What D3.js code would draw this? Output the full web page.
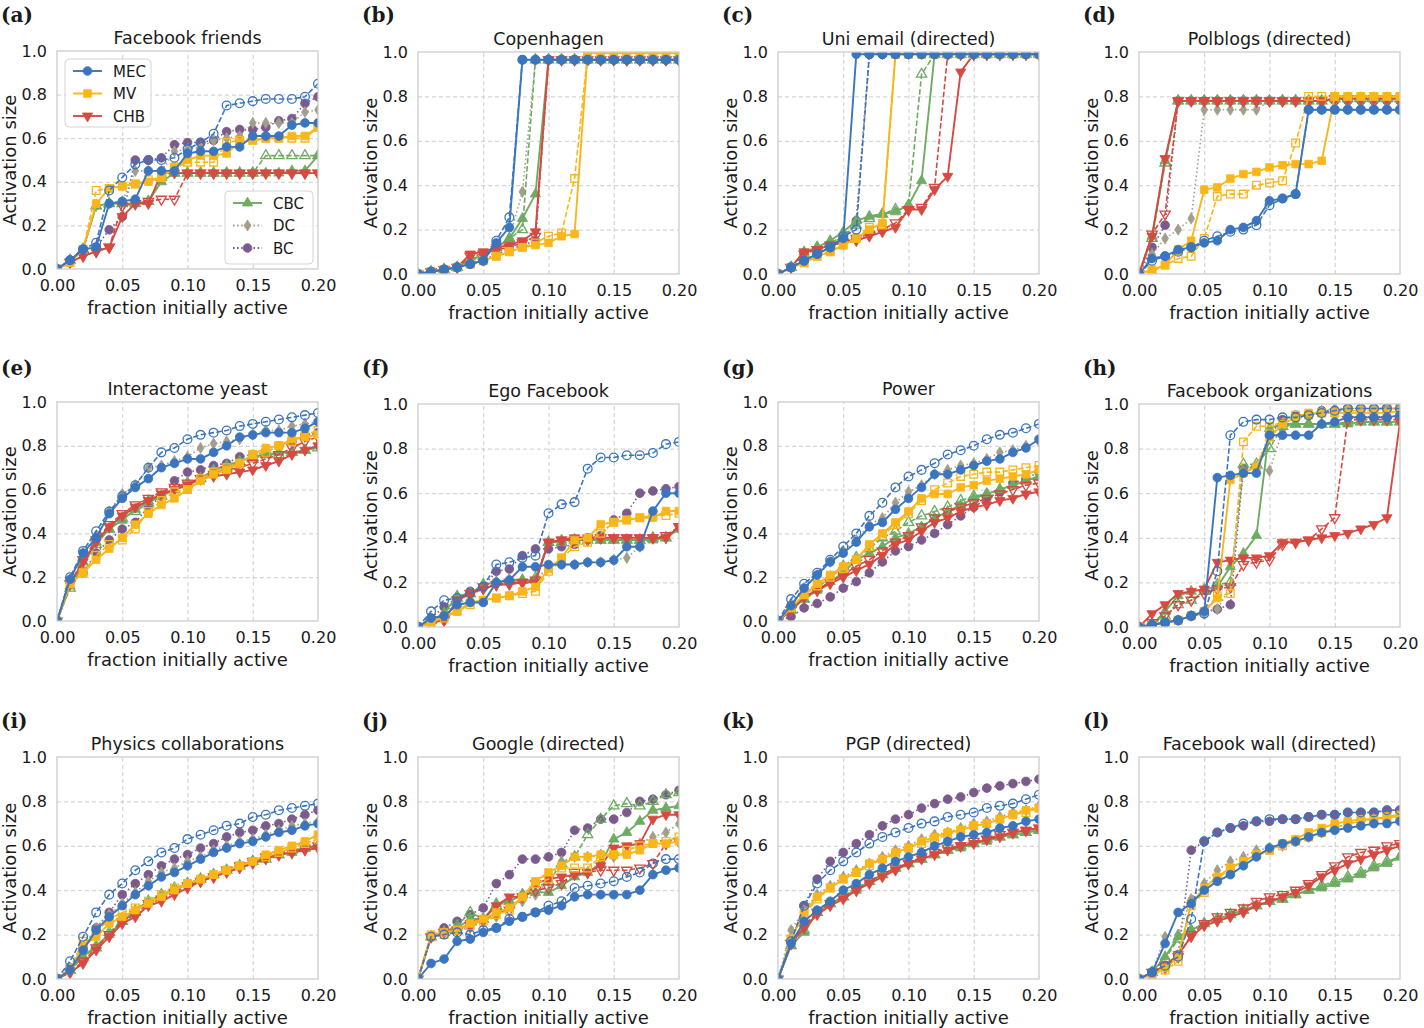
<!DOCTYPE html>
<html>
<head>
<meta charset="utf-8">
<script src="https://cdn.jsdelivr.net/npm/d3@7"></script>
<style>
  body { margin: 0; background: #fff; }
  text { font-family: "DejaVu Sans", sans-serif; fill: #1a1a1a; }
</style>
</head>
<body>
<svg id="chart" width="1424" height="1028"></svg>
<script>
// x positions of every run (fraction initially active)
const xFractions = [0, 0.01, 0.02, 0.03, 0.04, 0.05, 0.06, 0.07, 0.08, 0.09, 0.10, 0.11, 0.12, 0.13, 0.14, 0.15, 0.16, 0.17, 0.18, 0.19, 0.20];
const xTicks = [0, 0.05, 0.10, 0.15, 0.20];
const yTicks = [0, 0.2, 0.4, 0.6, 0.8, 1.0];
const panelLetters = ["(a)", "(b)", "(c)", "(d)", "(e)", "(f)", "(g)", "(h)", "(i)", "(j)", "(k)", "(l)"];
const panelTitles = ["Facebook friends", "Copenhagen", "Uni email (directed)", "Polblogs (directed)",
  "Interactome yeast", "Ego Facebook", "Power", "Facebook organizations",
  "Physics collaborations", "Google (directed)", "PGP (directed)", "Facebook wall (directed)"];
// series order in every panel below: MEC, MEC (dashed), MV, MV (dashed), CHB, CHB (dashed), CBC, CBC (dashed), DC, BC
const seriesKeys = ["MEC", "MEC*", "MV", "MV*", "CHB", "CHB*", "CBC", "CBC*", "DC", "BC"];

const facebookFriends = [
  [0,0.04,0.09,0.10,0.30,0.31,0.32,0.45,0.45,0.45,0.53,0.54,0.54,0.56,0.56,0.61,0.61,0.61,0.66,0.67,0.67],
  [0,0.04,0.09,0.12,0.36,0.42,0.48,0.50,0.50,0.51,0.55,0.58,0.62,0.75,0.76,0.77,0.78,0.78,0.78,0.79,0.85],
  [0,0.03,0.09,0.30,0.37,0.38,0.39,0.40,0.42,0.47,0.50,0.52,0.52,0.53,0.58,0.59,0.60,0.60,0.61,0.61,0.65],
  [0,0.03,0.09,0.36,0.37,0.38,0.39,0.41,0.42,0.46,0.49,0.49,0.49,0.58,0.59,0.59,0.60,0.60,0.60,0.60,0.65],
  [0,0.03,0.06,0.08,0.10,0.24,0.30,0.30,0.44,0.44,0.44,0.44,0.44,0.44,0.44,0.44,0.44,0.44,0.44,0.44,0.44],
  [0,0.03,0.06,0.08,0.10,0.29,0.30,0.31,0.32,0.32,0.44,0.44,0.44,0.44,0.44,0.44,0.44,0.44,0.44,0.44,0.44],
  [0,0.04,0.09,0.29,0.30,0.30,0.30,0.31,0.40,0.44,0.44,0.44,0.44,0.44,0.44,0.44,0.44,0.44,0.45,0.45,0.52],
  [0,0.04,0.09,0.29,0.30,0.30,0.30,0.31,0.42,0.44,0.44,0.44,0.44,0.44,0.44,0.44,0.52,0.52,0.52,0.52,0.52],
  [0,0.04,0.09,0.29,0.30,0.31,0.45,0.45,0.45,0.54,0.55,0.56,0.59,0.60,0.61,0.67,0.67,0.67,0.67,0.72,0.73],
  [0,0.04,0.09,0.10,0.18,0.24,0.50,0.50,0.51,0.57,0.58,0.58,0.59,0.63,0.64,0.64,0.65,0.68,0.69,0.76,0.79]
];
const copenhagen = [
  [0,0.01,0.02,0.03,0.045,0.06,0.14,0.21,0.965,0.965,0.965,0.965,0.965,0.965,0.965,0.965,0.965,0.965,0.965,0.965,0.965],
  [0,0.01,0.02,0.03,0.045,0.06,0.15,0.255,0.965,0.965,0.965,0.965,0.965,0.965,0.965,0.965,0.965,0.965,0.965,0.965,0.965],
  [0,0.01,0.02,0.03,0.045,0.06,0.08,0.10,0.12,0.13,0.14,0.17,0.18,0.995,0.995,0.995,0.995,0.995,0.995,0.995,0.995],
  [0,0.01,0.02,0.03,0.045,0.06,0.08,0.10,0.12,0.14,0.17,0.185,0.43,0.995,0.995,0.995,0.995,0.995,0.995,0.995,0.995],
  [0,0.01,0.02,0.03,0.09,0.10,0.12,0.13,0.15,0.19,0.965,0.965,0.965,0.965,0.965,0.965,0.965,0.965,0.965,0.965,0.965],
  [0,0.01,0.02,0.03,0.08,0.09,0.11,0.12,0.14,0.17,0.965,0.965,0.965,0.965,0.965,0.965,0.965,0.965,0.965,0.965,0.965],
  [0,0.01,0.02,0.03,0.07,0.08,0.12,0.16,0.25,0.36,0.965,0.965,0.965,0.965,0.965,0.965,0.965,0.965,0.965,0.965,0.965],
  [0,0.01,0.02,0.03,0.06,0.08,0.12,0.16,0.20,0.965,0.965,0.965,0.965,0.965,0.965,0.965,0.965,0.965,0.965,0.965,0.965],
  [0,0.01,0.02,0.03,0.05,0.07,0.12,0.16,0.37,0.965,0.965,0.965,0.965,0.965,0.965,0.965,0.965,0.965,0.965,0.965,0.965],
  [0,0.01,0.02,0.03,0.045,0.06,0.09,0.11,0.13,0.15,0.965,0.965,0.965,0.965,0.965,0.965,0.965,0.965,0.965,0.965,0.965]
];
const uniEmail = [
  [0,0.03,0.06,0.09,0.12,0.16,0.99,0.99,0.99,0.99,0.99,0.99,0.99,0.99,0.99,0.99,0.99,0.99,0.99,0.99,0.99],
  [0,0.03,0.06,0.09,0.12,0.17,0.20,0.99,0.99,0.99,0.99,0.99,0.99,0.99,0.99,0.99,0.99,0.99,0.99,0.99,0.99],
  [0,0.03,0.05,0.08,0.10,0.13,0.16,0.20,0.23,0.99,0.99,0.99,0.99,0.99,0.99,0.99,0.99,0.99,0.99,0.99,0.99],
  [0,0.03,0.05,0.08,0.10,0.13,0.16,0.21,0.22,0.99,0.99,0.99,0.99,0.99,0.99,0.99,0.99,0.99,0.99,0.99,0.99],
  [0,0.03,0.10,0.11,0.13,0.14,0.15,0.17,0.19,0.21,0.29,0.29,0.38,0.44,0.91,0.99,0.99,0.99,0.99,0.99,0.99],
  [0,0.03,0.09,0.11,0.13,0.14,0.16,0.18,0.20,0.23,0.29,0.30,0.39,0.99,0.99,0.99,0.99,0.99,0.99,0.99,0.99],
  [0,0.03,0.10,0.12,0.15,0.19,0.24,0.26,0.27,0.28,0.31,0.42,0.99,0.99,0.99,0.99,0.99,0.99,0.99,0.99,0.99],
  [0,0.03,0.09,0.12,0.14,0.17,0.22,0.25,0.27,0.29,0.31,0.90,0.99,0.99,0.99,0.99,0.99,0.99,0.99,0.99,0.99],
  [0,0.03,0.06,0.09,0.12,0.16,0.23,0.99,0.99,0.99,0.99,0.99,0.99,0.99,0.99,0.99,0.99,0.99,0.99,0.99,0.99],
  [0,0.03,0.06,0.09,0.12,0.16,0.24,0.99,0.99,0.99,0.99,0.99,0.99,0.99,0.99,0.99,0.99,0.99,0.99,0.99,0.99]
];
const polblogs = [
  [0,0.07,0.08,0.11,0.12,0.14,0.15,0.20,0.21,0.24,0.33,0.34,0.36,0.74,0.74,0.74,0.74,0.74,0.74,0.74,0.74],
  [0,0.06,0.08,0.10,0.12,0.15,0.17,0.19,0.20,0.22,0.31,0.34,0.36,0.74,0.74,0.74,0.74,0.74,0.74,0.74,0.74],
  [0,0.02,0.04,0.11,0.15,0.38,0.39,0.43,0.45,0.46,0.48,0.49,0.495,0.495,0.51,0.80,0.80,0.80,0.80,0.80,0.80],
  [0,0.01,0.04,0.07,0.08,0.16,0.35,0.36,0.36,0.40,0.41,0.42,0.59,0.80,0.80,0.80,0.80,0.80,0.80,0.80,0.80],
  [0,0.17,0.52,0.78,0.78,0.78,0.78,0.78,0.78,0.78,0.78,0.78,0.78,0.78,0.78,0.79,0.79,0.79,0.79,0.79,0.79],
  [0,0.18,0.27,0.78,0.78,0.78,0.78,0.78,0.78,0.78,0.78,0.78,0.78,0.78,0.78,0.79,0.79,0.79,0.79,0.79,0.79],
  [0,0.17,0.51,0.78,0.78,0.78,0.78,0.78,0.78,0.78,0.78,0.78,0.78,0.78,0.78,0.79,0.79,0.79,0.79,0.79,0.79],
  [0,0.16,0.50,0.78,0.78,0.78,0.78,0.78,0.78,0.78,0.78,0.78,0.78,0.78,0.78,0.79,0.79,0.79,0.79,0.79,0.79],
  [0,0.09,0.16,0.20,0.25,0.74,0.74,0.74,0.74,0.74,0.78,0.78,0.78,0.78,0.78,0.78,0.78,0.78,0.78,0.78,0.78],
  [0,0.12,0.22,0.78,0.78,0.78,0.78,0.78,0.78,0.78,0.78,0.78,0.78,0.78,0.78,0.78,0.78,0.78,0.78,0.78,0.78]
];
const interactomeYeast = [
  [0,0.19,0.31,0.38,0.49,0.56,0.61,0.65,0.70,0.72,0.74,0.74,0.77,0.80,0.84,0.85,0.86,0.86,0.86,0.88,0.91],
  [0,0.20,0.32,0.41,0.50,0.57,0.62,0.70,0.77,0.79,0.83,0.85,0.86,0.87,0.89,0.90,0.91,0.92,0.93,0.94,0.95],
  [0,0.17,0.22,0.28,0.33,0.38,0.44,0.49,0.53,0.56,0.60,0.64,0.67,0.69,0.72,0.76,0.79,0.80,0.83,0.84,0.85],
  [0,0.17,0.22,0.30,0.35,0.37,0.42,0.50,0.55,0.59,0.60,0.65,0.68,0.70,0.72,0.76,0.77,0.80,0.82,0.85,0.87],
  [0,0.17,0.27,0.36,0.43,0.48,0.52,0.55,0.58,0.60,0.62,0.65,0.66,0.67,0.68,0.69,0.71,0.73,0.76,0.78,0.80],
  [0,0.17,0.28,0.37,0.44,0.49,0.53,0.56,0.59,0.61,0.63,0.65,0.67,0.69,0.70,0.72,0.74,0.76,0.79,0.82,0.84],
  [0,0.16,0.27,0.36,0.42,0.46,0.51,0.55,0.57,0.60,0.62,0.65,0.69,0.71,0.73,0.75,0.76,0.77,0.77,0.78,0.80],
  [0,0.15,0.26,0.35,0.42,0.47,0.50,0.54,0.57,0.60,0.63,0.65,0.68,0.70,0.72,0.74,0.76,0.76,0.77,0.78,0.79],
  [0,0.19,0.31,0.39,0.50,0.58,0.62,0.70,0.71,0.73,0.75,0.79,0.81,0.82,0.83,0.85,0.87,0.87,0.89,0.90,0.91],
  [0,0.18,0.22,0.31,0.37,0.42,0.45,0.52,0.57,0.64,0.68,0.69,0.71,0.72,0.75,0.76,0.77,0.80,0.82,0.85,0.86]
];
const egoFacebook = [
  [0,0.04,0.05,0.10,0.11,0.11,0.20,0.21,0.27,0.27,0.28,0.28,0.28,0.29,0.29,0.30,0.36,0.36,0.52,0.60,0.60],
  [0,0.07,0.12,0.13,0.15,0.18,0.28,0.29,0.31,0.32,0.51,0.55,0.56,0.71,0.76,0.76,0.77,0.77,0.78,0.82,0.83],
  [0,0.02,0.05,0.07,0.11,0.12,0.13,0.14,0.16,0.18,0.26,0.31,0.39,0.40,0.46,0.47,0.48,0.49,0.49,0.52,0.52],
  [0,0.02,0.04,0.07,0.10,0.12,0.13,0.14,0.15,0.16,0.25,0.31,0.36,0.38,0.42,0.47,0.48,0.49,0.50,0.50,0.51],
  [0,0.02,0.03,0.12,0.15,0.17,0.19,0.19,0.20,0.20,0.38,0.39,0.40,0.40,0.40,0.40,0.40,0.40,0.40,0.40,0.45],
  [0,0.02,0.03,0.12,0.15,0.18,0.19,0.20,0.20,0.21,0.38,0.39,0.39,0.39,0.40,0.40,0.40,0.40,0.40,0.41,0.45],
  [0,0.03,0.06,0.14,0.15,0.19,0.20,0.21,0.21,0.21,0.38,0.39,0.39,0.39,0.39,0.39,0.39,0.39,0.39,0.40,0.44],
  [0,0.03,0.06,0.13,0.15,0.19,0.20,0.21,0.21,0.22,0.38,0.38,0.39,0.39,0.39,0.39,0.39,0.39,0.40,0.40,0.44],
  [0,0.03,0.05,0.12,0.15,0.17,0.19,0.20,0.20,0.21,0.27,0.28,0.28,0.29,0.29,0.30,0.31,0.36,0.40,0.40,0.44],
  [0,0.04,0.09,0.13,0.16,0.18,0.25,0.26,0.32,0.35,0.35,0.36,0.37,0.40,0.41,0.48,0.51,0.60,0.61,0.62,0.63]
];
const power = [
  [0,0.07,0.15,0.21,0.27,0.31,0.36,0.43,0.45,0.51,0.56,0.61,0.67,0.67,0.69,0.71,0.73,0.74,0.77,0.79,0.83],
  [0,0.10,0.17,0.22,0.28,0.34,0.40,0.48,0.54,0.61,0.66,0.69,0.72,0.76,0.78,0.80,0.83,0.85,0.86,0.88,0.90],
  [0,0.06,0.12,0.17,0.21,0.25,0.28,0.35,0.40,0.45,0.50,0.56,0.58,0.58,0.61,0.62,0.64,0.65,0.66,0.67,0.69],
  [0,0.06,0.12,0.16,0.20,0.24,0.28,0.34,0.39,0.44,0.49,0.55,0.60,0.63,0.66,0.67,0.68,0.68,0.69,0.70,0.71],
  [0,0.05,0.11,0.14,0.17,0.20,0.23,0.26,0.30,0.35,0.37,0.41,0.45,0.47,0.50,0.52,0.53,0.55,0.56,0.58,0.59],
  [0,0.05,0.11,0.14,0.18,0.21,0.25,0.28,0.32,0.36,0.39,0.43,0.47,0.50,0.52,0.54,0.56,0.58,0.60,0.62,0.63],
  [0,0.05,0.10,0.14,0.18,0.22,0.28,0.31,0.34,0.38,0.40,0.43,0.47,0.50,0.53,0.56,0.58,0.60,0.62,0.64,0.66],
  [0,0.05,0.10,0.15,0.20,0.25,0.29,0.33,0.38,0.41,0.45,0.48,0.50,0.52,0.55,0.57,0.58,0.60,0.62,0.64,0.66],
  [0,0.08,0.15,0.21,0.27,0.32,0.37,0.44,0.47,0.54,0.59,0.62,0.67,0.69,0.71,0.72,0.74,0.77,0.78,0.80,0.82],
  [0,0.02,0.06,0.08,0.11,0.15,0.18,0.22,0.27,0.32,0.34,0.37,0.40,0.44,0.48,0.52,0.56,0.59,0.63,0.65,0.68]
];
const facebookOrganizations = [
  [0,0.01,0.02,0.03,0.05,0.07,0.67,0.68,0.69,0.69,0.86,0.86,0.86,0.86,0.91,0.92,0.94,0.94,0.94,0.94,0.95],
  [0,0.01,0.02,0.03,0.05,0.06,0.25,0.86,0.92,0.93,0.93,0.94,0.94,0.95,0.96,0.97,0.98,0.98,0.98,0.98,0.98],
  [0,0.01,0.02,0.03,0.05,0.07,0.13,0.66,0.69,0.72,0.85,0.91,0.94,0.96,0.96,0.96,0.96,0.96,0.96,0.96,0.97],
  [0,0.01,0.02,0.03,0.05,0.07,0.14,0.15,0.83,0.90,0.90,0.92,0.95,0.95,0.96,0.96,0.97,0.97,0.97,0.98,0.98],
  [0,0.06,0.10,0.15,0.16,0.17,0.29,0.30,0.31,0.31,0.32,0.38,0.38,0.39,0.40,0.41,0.42,0.44,0.46,0.49,0.92],
  [0,0.02,0.05,0.10,0.12,0.15,0.17,0.18,0.28,0.29,0.30,0.37,0.38,0.39,0.44,0.49,0.93,0.93,0.93,0.93,0.93],
  [0,0.01,0.07,0.14,0.16,0.17,0.18,0.27,0.33,0.41,0.89,0.91,0.91,0.91,0.91,0.91,0.91,0.92,0.92,0.92,0.92],
  [0,0.01,0.05,0.10,0.12,0.16,0.19,0.20,0.73,0.73,0.80,0.90,0.91,0.91,0.91,0.91,0.92,0.92,0.92,0.92,0.92],
  [0,0.01,0.02,0.03,0.05,0.06,0.08,0.18,0.70,0.72,0.70,0.88,0.93,0.95,0.97,0.98,0.98,0.98,0.98,0.98,0.98],
  [0,0.01,0.02,0.03,0.05,0.07,0.08,0.10,0.71,0.72,0.86,0.93,0.95,0.95,0.97,0.97,0.98,0.98,0.98,0.98,0.98]
];
const physicsCollaborations = [
  [0,0.04,0.13,0.22,0.28,0.33,0.38,0.42,0.46,0.48,0.51,0.54,0.57,0.59,0.61,0.62,0.64,0.66,0.67,0.69,0.70],
  [0,0.08,0.19,0.30,0.38,0.43,0.49,0.53,0.57,0.59,0.63,0.65,0.67,0.69,0.70,0.73,0.74,0.76,0.77,0.78,0.79],
  [0,0.04,0.15,0.19,0.25,0.28,0.31,0.34,0.37,0.40,0.43,0.45,0.47,0.49,0.51,0.53,0.56,0.58,0.60,0.62,0.65],
  [0,0.05,0.17,0.21,0.27,0.30,0.32,0.35,0.38,0.41,0.43,0.45,0.47,0.49,0.51,0.53,0.55,0.57,0.59,0.61,0.63],
  [0,0.03,0.07,0.13,0.19,0.25,0.28,0.33,0.35,0.38,0.41,0.44,0.46,0.48,0.50,0.52,0.54,0.56,0.57,0.58,0.59],
  [0,0.03,0.08,0.14,0.20,0.26,0.29,0.34,0.36,0.39,0.42,0.44,0.46,0.49,0.51,0.53,0.55,0.56,0.57,0.59,0.60],
  [0,0.04,0.10,0.15,0.20,0.26,0.31,0.35,0.38,0.40,0.43,0.45,0.47,0.49,0.51,0.53,0.55,0.56,0.57,0.59,0.60],
  [0,0.04,0.10,0.14,0.21,0.26,0.30,0.35,0.38,0.41,0.43,0.45,0.47,0.49,0.51,0.53,0.54,0.56,0.58,0.59,0.60],
  [0,0.05,0.14,0.23,0.29,0.34,0.39,0.44,0.48,0.50,0.53,0.55,0.58,0.60,0.62,0.63,0.65,0.67,0.69,0.70,0.71],
  [0,0.05,0.14,0.23,0.30,0.38,0.43,0.47,0.51,0.54,0.56,0.59,0.61,0.64,0.66,0.67,0.69,0.70,0.72,0.74,0.76]
];
const google = [
  [0,0.07,0.09,0.17,0.18,0.21,0.23,0.26,0.28,0.30,0.31,0.33,0.37,0.38,0.38,0.38,0.38,0.40,0.47,0.49,0.50],
  [0,0.19,0.20,0.21,0.20,0.22,0.23,0.27,0.28,0.30,0.33,0.35,0.41,0.42,0.43,0.44,0.46,0.48,0.52,0.54,0.54],
  [0,0.20,0.21,0.22,0.25,0.27,0.30,0.32,0.37,0.44,0.48,0.51,0.55,0.55,0.56,0.56,0.56,0.58,0.61,0.61,0.62],
  [0,0.19,0.20,0.22,0.24,0.26,0.29,0.31,0.37,0.43,0.45,0.50,0.50,0.50,0.55,0.56,0.58,0.60,0.61,0.62,0.64],
  [0,0.19,0.21,0.22,0.25,0.27,0.33,0.37,0.37,0.43,0.45,0.46,0.47,0.48,0.51,0.59,0.60,0.61,0.72,0.74,0.74],
  [0,0.19,0.21,0.22,0.24,0.26,0.30,0.31,0.37,0.40,0.41,0.43,0.48,0.48,0.49,0.49,0.49,0.50,0.52,0.61,0.62],
  [0,0.19,0.21,0.23,0.27,0.27,0.34,0.35,0.38,0.39,0.39,0.42,0.46,0.48,0.52,0.63,0.66,0.71,0.76,0.77,0.78],
  [0,0.19,0.21,0.24,0.30,0.27,0.33,0.35,0.38,0.41,0.44,0.52,0.55,0.65,0.72,0.78,0.79,0.78,0.80,0.83,0.84],
  [0,0.19,0.21,0.22,0.23,0.26,0.28,0.33,0.35,0.38,0.44,0.53,0.55,0.55,0.56,0.55,0.57,0.61,0.64,0.66,0.70],
  [0,0.19,0.23,0.26,0.29,0.32,0.43,0.47,0.54,0.54,0.55,0.57,0.67,0.68,0.72,0.72,0.75,0.80,0.81,0.83,0.85]
];
const pgp = [
  [0,0.16,0.26,0.31,0.35,0.40,0.43,0.47,0.50,0.53,0.55,0.57,0.60,0.62,0.64,0.65,0.66,0.68,0.69,0.71,0.72],
  [0,0.17,0.33,0.43,0.49,0.53,0.57,0.61,0.64,0.66,0.68,0.70,0.71,0.73,0.74,0.75,0.77,0.78,0.79,0.81,0.83],
  [0,0.18,0.30,0.37,0.41,0.45,0.48,0.52,0.54,0.57,0.59,0.62,0.64,0.66,0.67,0.69,0.70,0.72,0.74,0.76,0.77],
  [0,0.18,0.29,0.36,0.41,0.45,0.48,0.51,0.54,0.56,0.59,0.61,0.63,0.65,0.67,0.69,0.70,0.72,0.74,0.75,0.77],
  [0,0.16,0.23,0.29,0.33,0.36,0.40,0.43,0.46,0.49,0.52,0.54,0.56,0.58,0.60,0.61,0.63,0.64,0.66,0.67,0.68],
  [0,0.16,0.24,0.30,0.34,0.37,0.40,0.44,0.47,0.50,0.52,0.55,0.57,0.59,0.60,0.62,0.63,0.65,0.66,0.67,0.68],
  [0,0.15,0.21,0.30,0.34,0.37,0.40,0.44,0.47,0.50,0.52,0.54,0.56,0.58,0.59,0.61,0.62,0.64,0.65,0.66,0.67],
  [0,0.15,0.22,0.30,0.34,0.37,0.41,0.44,0.47,0.50,0.52,0.54,0.56,0.58,0.60,0.61,0.63,0.64,0.65,0.66,0.67],
  [0,0.22,0.31,0.38,0.42,0.46,0.49,0.52,0.55,0.58,0.60,0.63,0.65,0.66,0.68,0.70,0.71,0.73,0.75,0.76,0.78],
  [0,0.17,0.33,0.45,0.53,0.57,0.61,0.65,0.69,0.72,0.74,0.77,0.79,0.81,0.82,0.84,0.86,0.87,0.88,0.89,0.90]
];
const facebookWall = [
  [0,0.03,0.16,0.30,0.34,0.40,0.44,0.47,0.51,0.55,0.59,0.61,0.62,0.64,0.66,0.67,0.68,0.69,0.70,0.70,0.71],
  [0,0.03,0.06,0.10,0.27,0.62,0.66,0.68,0.70,0.71,0.72,0.72,0.72,0.73,0.74,0.74,0.75,0.75,0.75,0.76,0.76],
  [0,0.02,0.05,0.10,0.34,0.41,0.46,0.50,0.53,0.56,0.58,0.61,0.63,0.66,0.68,0.70,0.71,0.72,0.72,0.73,0.74],
  [0,0.02,0.04,0.08,0.33,0.39,0.45,0.50,0.53,0.56,0.58,0.60,0.62,0.64,0.66,0.68,0.70,0.71,0.72,0.73,0.73],
  [0,0.03,0.06,0.11,0.19,0.24,0.26,0.28,0.30,0.33,0.35,0.37,0.39,0.42,0.46,0.49,0.52,0.54,0.56,0.58,0.60],
  [0,0.03,0.05,0.10,0.20,0.25,0.28,0.30,0.32,0.35,0.37,0.38,0.40,0.43,0.47,0.51,0.55,0.57,0.58,0.60,0.61],
  [0,0.03,0.10,0.19,0.22,0.25,0.27,0.29,0.31,0.33,0.35,0.36,0.38,0.40,0.41,0.43,0.45,0.47,0.50,0.52,0.55],
  [0,0.03,0.09,0.18,0.22,0.25,0.27,0.29,0.31,0.33,0.35,0.36,0.38,0.40,0.42,0.44,0.46,0.48,0.51,0.53,0.55],
  [0,0.03,0.19,0.20,0.36,0.43,0.49,0.53,0.55,0.58,0.59,0.60,0.62,0.64,0.66,0.68,0.70,0.71,0.72,0.73,0.74],
  [0,0.03,0.06,0.11,0.58,0.62,0.66,0.68,0.69,0.71,0.71,0.72,0.72,0.73,0.74,0.74,0.75,0.75,0.75,0.76,0.76]
];

const panelData = [facebookFriends, copenhagen, uniEmail, polblogs,
  interactomeYeast, egoFacebook, power, facebookOrganizations,
  physicsCollaborations, google, pgp, facebookWall];

// layout: plot box of each panel
const panelBoxes = [
  { x: 57, y: 51, w: 261, h: 218 }, { x: 418, y: 52, w: 261, h: 222 },
  { x: 778, y: 52, w: 261, h: 222 }, { x: 1139, y: 52, w: 261, h: 222 },
  { x: 57, y: 402, w: 261, h: 219 }, { x: 418, y: 404, w: 261, h: 223 },
  { x: 778, y: 402, w: 261, h: 219 }, { x: 1139, y: 404, w: 261, h: 223 },
  { x: 57, y: 757, w: 261, h: 222 }, { x: 418, y: 757, w: 261, h: 222 },
  { x: 778, y: 757, w: 261, h: 222 }, { x: 1139, y: 757, w: 261, h: 222 }
];
const letterY = [22, 22, 22, 22, 375, 375, 375, 375, 728, 728, 728, 728];

var blue = "#3b75bd", gold = "#f9b61a", red = "#d64a41", green = "#6fab63", gray = "#a39d8c", purple = "#7b5a8c";
var dashed = "5.5,2.4", dotted = "1.5,2.6";
var seriesStyles = [
  { color: blue, dash: null, marker: "circle", filled: true },
  { color: blue, dash: dashed, marker: "circle", filled: false },
  { color: gold, dash: null, marker: "square", filled: true },
  { color: gold, dash: dashed, marker: "square", filled: false },
  { color: red, dash: null, marker: "tdown", filled: true },
  { color: red, dash: dashed, marker: "tdown", filled: false },
  { color: green, dash: null, marker: "tup", filled: true },
  { color: green, dash: dashed, marker: "tup", filled: false },
  { color: gray, dash: dotted, marker: "diamond", filled: true },
  { color: purple, dash: dotted, marker: "circle", filled: true }
];
var drawOrder = [9, 8, 7, 6, 5, 4, 3, 2, 1, 0];

function markerPath(kind) {
  if (kind === "circle") return d3.symbol(d3.symbolCircle, 60)();
  if (kind === "square") return d3.symbol(d3.symbolSquare, 58)();
  if (kind === "tup" || kind === "tdown") return d3.symbol(d3.symbolTriangle, 46)();
  return "M0,-5.6L3.4,0L0,5.6L-3.4,0Z";
}

var svg = d3.select("#chart");
var defs = svg.append("defs");

function drawMarker(g, st, cx, cy) {
  g.append("path")
    .attr("d", markerPath(st.marker))
    .attr("transform", "translate(" + cx + "," + cy + ")" + (st.marker === "tdown" ? " rotate(180)" : ""))
    .attr("fill", st.filled ? st.color : "none")
    .attr("stroke", st.color)
    .attr("stroke-width", st.filled ? 0.8 : 1.3);
}

panelData.forEach(function(rows, p) {
  var box = panelBoxes[p];
  var x = d3.scaleLinear().domain([0, 0.2]).range([box.x, box.x + box.w]);
  var y = d3.scaleLinear().domain([0, 1]).range([box.y + box.h, box.y]);
  var g = svg.append("g");

  // grid
  g.append("g")
    .attr("transform", "translate(0," + (box.y + box.h) + ")")
    .call(d3.axisBottom(x).tickValues([0.05, 0.1, 0.15]).tickSize(-box.h).tickFormat(""))
    .call(function(s) { s.select(".domain").remove(); })
    .selectAll("line").attr("stroke", "#cbcbcb").attr("stroke-dasharray", "4,3");
  g.append("g")
    .attr("transform", "translate(" + box.x + ",0)")
    .call(d3.axisLeft(y).tickValues([0.2, 0.4, 0.6, 0.8]).tickSize(-box.w).tickFormat(""))
    .call(function(s) { s.select(".domain").remove(); })
    .selectAll("line").attr("stroke", "#cbcbcb").attr("stroke-dasharray", "4,3");

  defs.append("clipPath").attr("id", "clip" + p)
    .append("rect").attr("x", box.x).attr("y", box.y).attr("width", box.w).attr("height", box.h);
  var plot = g.append("g").attr("clip-path", "url(#clip" + p + ")");

  var line = d3.line()
    .x(function(d, i) { return x(xFractions[i]); })
    .y(function(d) { return y(d); });

  drawOrder.forEach(function(k) {
    var st = seriesStyles[k];
    var vals = rows[k];
    var sg = plot.append("g");
    sg.append("path")
      .datum(vals)
      .attr("d", line)
      .attr("fill", "none")
      .attr("stroke", st.color)
      .attr("stroke-width", st.dash ? 1.6 : 1.9)
      .attr("stroke-dasharray", st.dash);
    vals.forEach(function(v, i) {
      drawMarker(sg, st, x(xFractions[i]), y(v));
    });
  });

  // frame
  g.append("rect")
    .attr("x", box.x).attr("y", box.y).attr("width", box.w).attr("height", box.h)
    .attr("fill", "none").attr("stroke", "#cccccc").attr("stroke-width", 1.3);

  // axes
  var xa = g.append("g")
    .attr("transform", "translate(0," + (box.y + box.h) + ")")
    .call(d3.axisBottom(x).tickValues(xTicks).tickSize(0).tickPadding(11).tickFormat(d3.format(".2f")));
  xa.select(".domain").remove();
  xa.selectAll("text").style("font-size", "16px").attr("fill", "#1a1a1a");
  var ya = g.append("g")
    .attr("transform", "translate(" + box.x + ",0)")
    .call(d3.axisLeft(y).tickValues(yTicks).tickSize(0).tickPadding(10).tickFormat(d3.format(".1f")));
  ya.select(".domain").remove();
  ya.selectAll("text").style("font-size", "16px").attr("fill", "#1a1a1a");

  g.append("text")
    .attr("x", box.x + box.w / 2).attr("y", box.y + box.h + 45)
    .attr("text-anchor", "middle").style("font-size", "18px")
    .text("fraction initially active");
  g.append("text")
    .attr("transform", "translate(" + (box.x - 41) + "," + (box.y + box.h / 2) + ") rotate(-90)")
    .attr("text-anchor", "middle").style("font-size", "18px")
    .text("Activation size");
  g.append("text")
    .attr("x", box.x + box.w / 2).attr("y", box.y - 7)
    .attr("text-anchor", "middle").style("font-size", "17.5px")
    .text(panelTitles[p]);
  g.append("text")
    .attr("x", box.x - 56).attr("y", letterY[p])
    .style("font-family", "'DejaVu Serif', serif").style("font-weight", "bold").style("font-size", "20px")
    .text(panelLetters[p]);
});

// legends in panel (a)
function drawLegend(bx, by, bw, bh, keys) {
  var lg = svg.append("g");
  lg.append("rect").attr("x", bx).attr("y", by).attr("width", bw).attr("height", bh)
    .attr("rx", 4).attr("fill", "#fff").attr("fill-opacity", 0.85)
    .attr("stroke", "#d4d4d4").attr("stroke-width", 1);
  keys.forEach(function(k, i) {
    var st = seriesStyles[k];
    var cy = by + 12 + i * 22.5;
    lg.append("line").attr("x1", bx + 8).attr("x2", bx + 37).attr("y1", cy).attr("y2", cy)
      .attr("stroke", st.color).attr("stroke-width", 1.9).attr("stroke-dasharray", st.dash);
    drawMarker(lg, st, bx + 22.5, cy);
    lg.append("text").attr("x", bx + 48).attr("y", cy + 5.5).style("font-size", "15px").text(seriesKeys[k]);
  });
}
drawLegend(65, 59, 86, 68, [0, 2, 4]);
drawLegend(225, 191, 88, 73, [6, 8, 9]);
</script>
</body>
</html>
